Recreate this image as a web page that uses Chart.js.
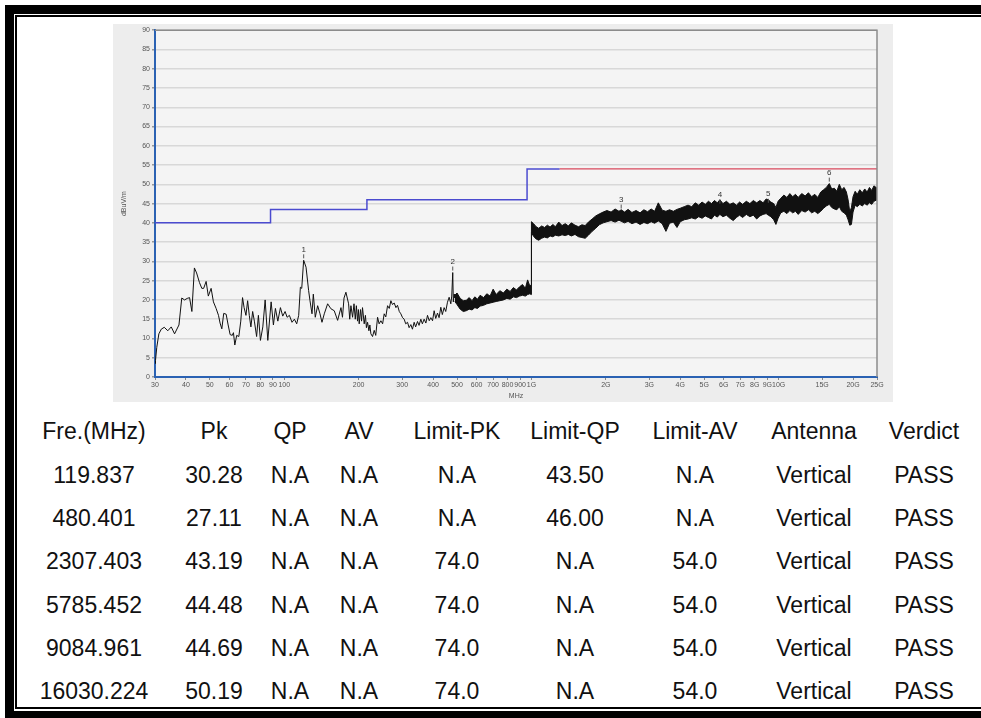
<!DOCTYPE html>
<html>
<head>
<meta charset="UTF-8">
<title>Radiated emission 30MHz-25GHz, Vertical</title>
<style>
  html, body { margin: 0; padding: 0; background: #fff; }
  #page { position: relative; width: 981px; height: 718px; overflow: hidden; background: #fff;
          font-family: "Liberation Sans", Arial, sans-serif; }
  .bar { position: absolute; background: #000; }
  #panel { position: absolute; left: 113px; top: 24px; width: 780px; height: 378px; background: #ededed; }
  #panel canvas { display: block; }
  .cell { position: absolute; width: 150px; height: 30px; line-height: 30px; margin-left: -75px;
          text-align: center; font-size: 23px; color: #111; white-space: nowrap; }
</style>
</head>
<body>
<div id="page">
  <!-- report frame -->
  <div class="bar" style="left:5px;top:5px;width:976px;height:9px"></div>
  <div class="bar" style="left:15px;top:15px;width:966px;height:2px"></div>
  <div class="bar" style="left:5px;top:5px;width:9px;height:713px"></div>
  <div class="bar" style="left:15px;top:15px;width:2px;height:694px"></div>
  <div class="bar" style="left:15px;top:707px;width:966px;height:2px"></div>
  <div class="bar" style="left:5px;top:711px;width:976px;height:7px"></div>

  <div id="panel"><canvas id="emission" width="780" height="378"></canvas></div>
  <div id="table"></div>
</div>

<script src="https://cdn.jsdelivr.net/npm/chart.js/dist/chart.umd.min.js"></script>
<script>
// ---------- data ----------
// x axis ticks (MHz) and the labels printed under them
const xTickValues = [30, 40, 50, 60, 70, 80, 90, 100, 200, 300, 400, 500, 600, 700, 800, 900,
                     1000, 2000, 3000, 4000, 5000, 6000, 7000, 8000, 9000, 10000, 15000, 20000, 25000];
const xTickLabels = ['30', '40', '50', '60', '70', '80', '90', '100', '200', '300', '400', '500', '600', '700', '800', '900',
                     '1G', '2G', '3G', '4G', '5G', '6G', '7G', '8G', '9G', '10G', '15G', '20G', '25G'];

// measured trace 30 - 490 MHz (MHz / dBuV/m)
const traceFreq = [
  30, 30.14, 30.5, 31.1, 31.8, 32.7, 33.8, 34.9, 36.0, 37.5,
  38.5, 39.5, 40.5, 41.4, 42.3, 43.3, 44.2, 45.4, 46.4, 47.2,
  48.3, 49.3, 50.6, 51.7, 53.0, 54.2, 55.0, 55.9, 56.9, 58.2,
  59.3, 60.4, 61.6, 62.3, 63.1, 64.2, 65.5, 66.7, 67.8, 68.8,
  70.0, 71.1, 72.2, 73.3, 74.5, 75.7, 77.3, 78.6, 80.1, 81.9,
  83.7, 85.8, 88.5, 90.4, 92.1, 94.2, 96.5, 98.6, 100.8, 102.7,
  104.9, 107.5, 109.9, 112.3, 114.4, 116.2, 117.7, 119.8, 122.5, 125.5,
  127.1, 129.5, 131.1, 133.5, 136.5, 139.5, 142.1, 145.2, 149.8, 154.5,
  159.3, 164.4, 169.6, 172, 174.5, 177.6, 182.1, 184, 186.1, 189.0,
  191.5, 193.8, 195.8, 197.9, 199.5, 201.0, 203.5, 205.5, 207.3, 210.6,
  213, 215, 217.3, 220, 222, 224.1, 227.6, 231.2, 234.5, 238.5,
  242, 246, 250, 253.7, 257.5, 261.8, 266, 270, 274, 278.5,
  283, 287.2, 292, 296.3, 301, 305.6, 310, 315.3, 320, 325.2,
  330, 335.4, 340, 346, 351, 356.9, 362, 368.1, 374, 379.8,
  386, 391.7, 398, 404, 410, 416.8, 423, 429.9, 436, 443.4,
  450, 457.4, 464.6, 471.8, 476, 480.4, 483, 487, 490
];
const traceLevel = [
  3.5, 4.3, 7.7, 11.2, 12.4, 12.9, 12.0, 13.0, 11.2, 13.5,
  20.5, 20.0, 20.4, 20.6, 17.0, 28.3, 27.0, 24.5, 23.0, 23.0,
  24.8, 21.0, 23.0, 19.5, 17.8, 16.0, 14.0, 12.5, 16.5, 16.3,
  13.5, 11.0, 10.8, 11.5, 8.3, 10.8, 10.5, 14.5, 20.6, 18.0,
  16.0, 19.8, 16.0, 13.0, 17.0, 14.5, 10.5, 16.0, 9.5, 13.0,
  20.0, 9.5, 19.5, 13.5, 17.8, 14.5, 18.0, 15.8, 17.0, 15.5,
  16.0, 14.2, 15.0, 13.8, 16.0, 23.3, 23.0, 30.3, 28.5, 22.4,
  19.8, 16.4, 21.5, 15.5, 18.5, 16.4, 14.2, 16.4, 19.0, 17.7,
  17.2, 14.7, 18.0, 15.5, 20.5, 22.0, 19.0, 15.0, 18.5, 15.5,
  19.0, 15.0, 18.5, 14.5, 17.5, 13.8, 17.5, 14.5, 18.0, 13.8,
  16.0, 12.8, 14.2, 12.0, 13.5, 11.2, 10.5, 12.1, 10.8, 15.5,
  13.8, 14.6, 13.8, 16.4, 15.6, 18.5, 17.8, 19.8, 18.8, 19.2,
  18.0, 18.6, 17.0, 16.4, 15.4, 15.0, 13.8, 14.2, 12.8, 13.6,
  12.4, 14.2, 13.0, 14.4, 13.4, 15.0, 13.8, 15.0, 14.0, 16.0,
  14.6, 15.4, 14.6, 17.2, 15.2, 16.6, 15.4, 18.1, 16.2, 18.0,
  17.0, 19.4, 20.7, 19.0, 21.0, 27.1, 19.5, 21.5, 20.5
];

// noisy part 490 MHz - 25 GHz, read as upper and lower edge of the black band
const bandFreq = [
  490, 500, 515, 530, 545, 560, 575, 590, 605, 620,
  640, 660, 680, 700, 720, 745, 770, 795, 820, 845,
  870, 895, 920, 945, 965, 985, 998, 1000, 1020, 1045,
  1070, 1100, 1130, 1160, 1190, 1220, 1250, 1290, 1330, 1370,
  1410, 1450, 1500, 1550, 1600, 1650, 1700, 1760, 1820, 1880,
  1950, 2020, 2100, 2180, 2260, 2307, 2380, 2460, 2550, 2650,
  2750, 2850, 2950, 3050, 3150, 3260, 3380, 3500, 3620, 3750,
  3880, 4000, 4150, 4300, 4450, 4600, 4750, 4900, 5050, 5200,
  5350, 5500, 5650, 5785, 5950, 6150, 6350, 6550, 6750, 6950,
  7150, 7400, 7650, 7900, 8150, 8400, 8650, 8900, 9085, 9300,
  9550, 9750, 9950, 10200, 10500, 10800, 11100, 11400, 11700, 12000,
  12400, 12800, 13200, 13600, 14000, 14400, 14800, 15200, 15600, 16030,
  16400, 16800, 17200, 17600, 18000, 18400, 18800, 19100, 19400, 19700,
  20000, 20400, 20800, 21300, 21800, 22300, 22800, 23300, 23800, 24300,
  25000
];
const bandHigh = [
  21.2, 21.8, 20.4, 19.8, 19.9, 20.6, 19.8, 20.8, 20.2, 21.2,
  20.6, 21.6, 21.0, 22.8, 21.4, 22.4, 21.8, 22.8, 22.2, 23.2,
  22.6, 23.4, 24.0, 23.0, 25.2, 23.6, 24.0, 40.3, 39.8, 39.0,
  38.6, 39.2, 38.8, 39.4, 38.9, 39.6, 39.0, 40.2, 39.3, 39.8,
  39.2, 40.0, 39.4, 39.0, 39.5, 39.3, 40.2, 41.0, 41.8, 42.3,
  42.8, 43.2, 42.8, 43.6, 43.0, 43.4, 42.8, 43.5, 42.7, 43.2,
  42.6, 43.4, 42.9, 43.6, 43.0, 45.2, 43.3, 43.0, 43.4, 43.0,
  43.5, 43.8, 44.2, 44.6, 44.2, 45.2, 44.6, 45.4, 44.8, 45.6,
  45.0, 45.8, 45.2, 46.0, 45.0, 45.6, 44.8, 45.2, 44.6, 45.4,
  44.8, 45.6, 45.0, 45.8, 45.2, 45.8, 45.2, 46.2, 46.0, 45.4,
  45.0, 44.0, 45.6, 46.4, 47.2, 46.6, 47.6, 46.8, 47.4, 46.6,
  47.6, 47.0, 47.8, 46.8, 47.4, 46.6, 48.0, 48.6, 49.2, 50.2,
  48.8, 49.0, 48.2, 50.0, 48.6, 49.2, 48.0, 46.0, 42.8, 44.0,
  46.8, 48.2, 47.4, 48.6, 47.8, 48.8, 48.0, 49.2, 48.4, 49.6,
  49.0
];
const bandLow = [
  19.6, 18.8, 17.6, 17.0, 17.2, 17.6, 17.4, 18.0, 17.8, 18.4,
  18.6, 19.0, 19.2, 19.4, 19.6, 19.8, 20.0, 20.4, 20.2, 20.8,
  20.6, 21.0, 21.2, 21.0, 21.4, 21.6, 21.4, 37.5, 36.5, 35.8,
  35.5, 36.0, 36.3, 36.1, 36.6, 36.4, 36.8, 36.6, 36.9, 36.7,
  37.0, 36.6, 37.0, 36.4, 36.2, 36.0, 36.8, 37.8, 38.6, 39.5,
  40.0, 40.3, 40.6, 40.2, 40.7, 40.4, 40.0, 40.4, 39.8, 40.2,
  39.6, 40.1, 39.8, 40.3, 39.9, 40.5, 39.8, 37.8, 39.9, 40.2,
  38.8, 40.3, 40.8, 41.0, 41.3, 41.0, 41.6, 41.2, 41.8, 41.4,
  41.0, 42.0, 41.5, 42.2, 41.6, 42.0, 41.2, 40.6, 41.4, 42.0,
  41.4, 42.2, 41.6, 42.0, 41.0, 41.8, 42.2, 42.4, 42.0, 41.6,
  40.8, 39.6, 41.2, 42.6, 43.0, 42.4, 43.2, 42.6, 43.0, 42.2,
  43.2, 42.8, 43.4, 42.6, 43.0, 42.4, 43.0, 43.8, 44.4, 44.8,
  44.0, 43.6, 43.4, 44.2, 43.0, 42.6, 42.0, 40.8, 39.4, 39.6,
  42.8, 44.6, 44.2, 44.8, 44.4, 45.0, 44.6, 45.2, 44.8, 45.6,
  46.0
];

// limit lines
const qpLimitFreq = [30, 88, 216, 960, 1300];
const qpLimitLevel = [40, 43.5, 46, 54, 54];
const avLimitFreq = [1300, 25000];
const avLimitLevel = [54, 54];

// marked peaks (numbered 1..6 on the plot, listed in the table)
const markerFreq = [119.837, 480.401, 2307.403, 5785.452, 9084.961, 16030.224];
const markerLevel = [30.28, 27.11, 43.19, 44.48, 44.69, 50.19];
const markerQP = ['N.A', 'N.A', 'N.A', 'N.A', 'N.A', 'N.A'];
const markerAV = ['N.A', 'N.A', 'N.A', 'N.A', 'N.A', 'N.A'];
const limitPK = ['N.A', 'N.A', '74.0', '74.0', '74.0', '74.0'];
const limitQP = ['43.50', '46.00', 'N.A', 'N.A', 'N.A', 'N.A'];
const limitAV = ['N.A', 'N.A', '54.0', '54.0', '54.0', '54.0'];
const antenna = ['Vertical', 'Vertical', 'Vertical', 'Vertical', 'Vertical', 'Vertical'];
const verdict = ['PASS', 'PASS', 'PASS', 'PASS', 'PASS', 'PASS'];
const tableHeader = ['Fre.(MHz)', 'Pk', 'QP', 'AV', 'Limit-PK', 'Limit-QP', 'Limit-AV', 'Antenna', 'Verdict'];

// ---------- chart ----------
const pts = (xs, ys) => xs.map((x, i) => ({ x: x, y: ys[i] }));
const AXIS_BLUE = '#2b62b3';

Chart.defaults.font.family = '"Liberation Sans", Arial, sans-serif';

// plot area background + grey top / right frame
const frame = {
  id: 'frame',
  beforeDraw(chart) {
    const { ctx, chartArea: a } = chart;
    ctx.save();
    ctx.fillStyle = '#f4f4f4';
    ctx.fillRect(a.left, a.top, a.width, a.height);
    ctx.restore();
  },
  afterDraw(chart) {
    const { ctx, chartArea: a } = chart;
    ctx.save();
    ctx.strokeStyle = '#8c8c8c';
    ctx.lineWidth = 1.5;
    ctx.beginPath();
    ctx.moveTo(a.left, a.top);
    ctx.lineTo(a.right, a.top);
    ctx.lineTo(a.right, a.bottom);
    ctx.stroke();
    ctx.restore();
  }
};

// peak numbers above the marked points
const peakLabels = {
  id: 'peakLabels',
  afterDatasetsDraw(chart) {
    const { ctx, scales: { x, y } } = chart;
    ctx.save();
    ctx.font = '8px "Liberation Sans", Arial, sans-serif';
    ctx.fillStyle = '#333';
    ctx.strokeStyle = '#555';
    ctx.lineWidth = 1;
    ctx.textAlign = 'center';
    ctx.textBaseline = 'middle';
    markerFreq.forEach((f, i) => {
      const px = x.getPixelForValue(f);
      const py = y.getPixelForValue(markerLevel[i]);
      ctx.fillText(String(i + 1), px, py - 11);
      ctx.beginPath();
      ctx.moveTo(px, py - 6);
      ctx.lineTo(px, py - 2);
      ctx.stroke();
    });
    ctx.restore();
  }
};

new Chart(document.getElementById('emission'), {
  type: 'line',
  data: {
    datasets: [
      { data: pts(traceFreq, traceLevel), borderColor: '#111', borderWidth: 1, pointRadius: 0, fill: false },
      { data: pts(bandFreq, bandHigh), borderColor: '#111', borderWidth: 1, pointRadius: 0, fill: false },
      { data: pts(bandFreq, bandLow), borderColor: '#111', borderWidth: 1, pointRadius: 0,
        fill: '-1', backgroundColor: '#111' },
      { data: pts(qpLimitFreq, qpLimitLevel), borderColor: '#4b4bcf', borderWidth: 1.5, pointRadius: 0,
        stepped: true, fill: false },
      { data: pts(avLimitFreq, avLimitLevel), borderColor: '#d8485c', borderWidth: 1.2, pointRadius: 0, fill: false }
    ]
  },
  options: {
    responsive: false,
    animation: false,
    events: [],
    layout: { padding: { top: 4, right: 16, left: 0, bottom: 0 } },
    plugins: { legend: { display: false }, tooltip: { enabled: false } },
    scales: {
      x: {
        type: 'logarithmic',
        min: 30,
        max: 25000,
        afterBuildTicks: s => { s.ticks = xTickValues.map(v => ({ value: v })); },
        afterFit: s => { s.height = 25; },
        ticks: {
          autoSkip: false, maxRotation: 0, padding: 1, color: '#555', font: { size: 7 },
          callback: v => xTickLabels[xTickValues.indexOf(v)]
        },
        grid: { drawOnChartArea: false, tickLength: 3, color: '#888' },
        border: { color: AXIS_BLUE, width: 2 },
        title: { display: true, text: 'MHz', color: '#555', font: { size: 7 }, padding: { top: 0, bottom: 2 } }
      },
      y: {
        min: 0,
        max: 90,
        afterFit: s => { s.width = 42; },
        ticks: { stepSize: 5, padding: 2, color: '#555', font: { size: 7 } },
        grid: { color: '#d8d8d8', lineWidth: 1.5, tickLength: 3, tickColor: '#999' },
        border: { color: AXIS_BLUE, width: 2 },
        title: { display: true, text: 'dBuV/m', color: '#555', font: { size: 7 }, padding: { top: 7, bottom: 0 } }
      }
    }
  },
  plugins: [frame, peakLabels]
});

// ---------- result table ----------
const colX = [94, 214, 290, 359, 457, 575, 695, 814, 924];
const rowY = [430.5, 474.5, 518, 561, 604.5, 648, 691.3];

const tableRows = markerFreq.map((f, i) => [
  f.toFixed(3), markerLevel[i].toFixed(2), markerQP[i], markerAV[i],
  limitPK[i], limitQP[i], limitAV[i], antenna[i], verdict[i]
]);

const table = document.getElementById('table');
[tableHeader].concat(tableRows).forEach((row, r) => {
  row.forEach((txt, c) => {
    const d = document.createElement('div');
    d.className = 'cell';
    d.style.left = colX[c] + 'px';
    d.style.top = (rowY[r] - 15) + 'px';
    d.textContent = txt;
    table.appendChild(d);
  });
});
</script>
</body>
</html>
